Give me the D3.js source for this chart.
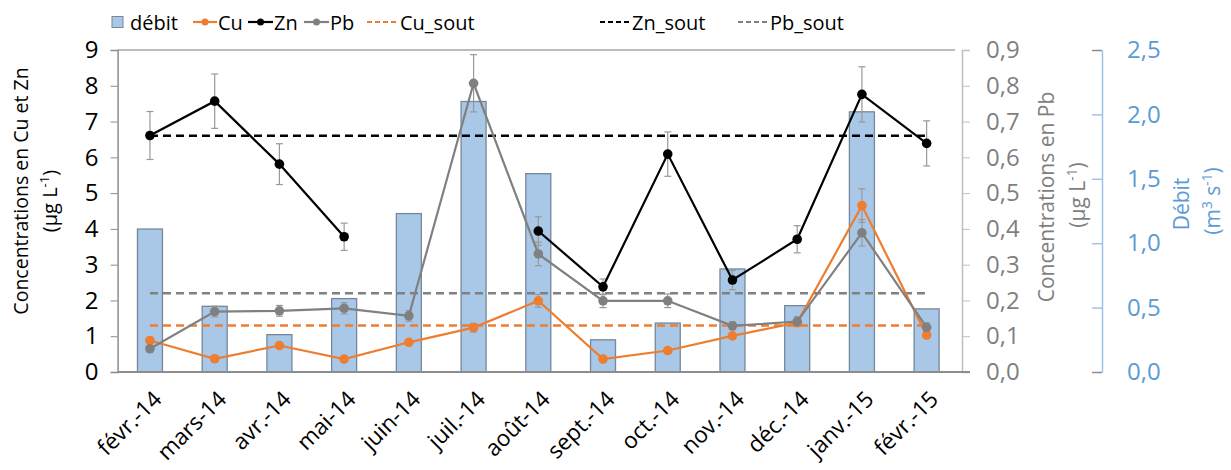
<!DOCTYPE html>
<html><head><meta charset="utf-8">
<script src="https://cdn.jsdelivr.net/npm/d3@7"></script>
<style>
html,body{margin:0;padding:0;background:#fff;}
svg{display:block;font-family:"Open Sans",sans-serif;}
</style></head>
<body>
<svg id="c" width="1231" height="470"></svg>
<script>
// ---- data ----
const months = ["févr.-14","mars-14","avr.-14","mai-14","juin-14","juil.-14","août-14","sept.-14","oct.-14","nov.-14","déc.-14","janv.-15","févr.-15"];
const debit = [1.11,0.51,0.29,0.57,1.23,2.10,1.54,0.25,0.38,0.80,0.515,2.02,0.49];
const cu    = [0.88,0.37,0.74,0.36,0.83,1.24,1.99,0.36,0.60,1.01,1.38,4.65,1.03];
const cuErr = [0.05,0.05,0.05,0.05,0.05,0.12,0.18,0.05,0.05,0.05,0.05,0.47,0.05];
const zn    = [6.61,7.57,5.81,3.78,null,null,3.94,2.38,6.09,2.57,3.71,7.76,6.39];
const znErr = [0.67,0.76,0.57,0.38,null,null,0.40,0.22,0.62,0.27,0.38,0.77,0.63];
const pb    = [0.065,0.169,0.171,0.178,0.157,0.807,0.330,0.199,0.199,0.129,0.141,0.389,0.125];
const pbErr = [0.005,0.015,0.015,0.016,0.015,0.080,0.033,0.019,0.019,0.011,0.014,0.037,0.012];
const cuSout = 1.3, znSout = 6.6, pbSout = 0.22;
const leftTicks = [0,1,2,3,4,5,6,7,8,9];
const pbTicks = [0,0.1,0.2,0.3,0.4,0.5,0.6,0.7,0.8,0.9];
const debitTicks = [0,0.5,1.0,1.5,2.0,2.5];

// ---- layout ----
const svg = d3.select("#c");
const L = 117.6, R = 959, T = 50, B = 372;
const x = d3.scalePoint().domain(months).range([L, R]).padding(0.5);
const yL = d3.scaleLinear().domain([0,9]).range([B,T]);
const yPb = d3.scaleLinear().domain([0,0.9]).range([B,T]);
const yQ = d3.scaleLinear().domain([0,2.5]).range([B,T]);
const fmt1 = d => d.toFixed(1).replace(".", ",");
const C_CU = "#ED7D31", C_ZN = "#000000", C_PB = "#808080", C_BLUE = "#5B9BD5";

// frame top line
svg.append("line").attr("x1",L).attr("x2",955).attr("y1",T).attr("y2",T)
  .attr("stroke","#a6a6a6").attr("stroke-width",1.5);

// bars
const bw = 25;
svg.append("g").selectAll("rect").data(months).join("rect")
  .attr("x", d => x(d) - bw/2)
  .attr("y", (d,i) => yQ(debit[i]))
  .attr("width", bw)
  .attr("height", (d,i) => yQ(0) - yQ(debit[i]))
  .attr("fill", "#A9C8E8")
  .attr("stroke", "#76879a")
  .attr("stroke-width", 1.3);

// left axis
const gL = svg.append("g").attr("transform",`translate(${L},0)`)
  .call(d3.axisLeft(yL).tickValues(leftTicks).tickSize(7).tickPadding(12).tickFormat(d3.format("d")));
gL.select(".domain").attr("stroke","#8c8c8c").attr("stroke-width",1.5);
gL.selectAll(".tick line").attr("stroke","#8c8c8c");
gL.selectAll("text").attr("font-size",24).attr("fill","#000").attr("font-family","Open Sans");

// Pb axis
const gP = svg.append("g").attr("transform",`translate(962,0)`)
  .call(d3.axisRight(yPb).tickValues(pbTicks).tickSize(8).tickPadding(16).tickFormat(fmt1));
gP.select(".domain").attr("stroke","#bfbfbf").attr("stroke-width",1.5);
gP.selectAll(".tick line").attr("stroke","#bfbfbf");
gP.selectAll("text").attr("font-size",24).attr("fill","#7f7f7f").attr("font-family","Open Sans");

// Debit axis
const gQ = svg.append("g").attr("transform",`translate(1102,0)`)
  .call(d3.axisRight(yQ).tickValues(debitTicks).tickSizeInner(-10).tickSizeOuter(0).tickPadding(25).tickFormat(fmt1));
gQ.select(".domain").attr("stroke","#9DC3E6").attr("stroke-width",1.5);
gQ.selectAll(".tick line").attr("stroke",(d)=> (d===0||d===2.5) ? "#8c8c8c" : "#9DC3E6").attr("stroke-width",1.5);
gQ.selectAll("text").attr("font-size",24).attr("fill",C_BLUE).attr("font-family","Open Sans");

// bottom axis
const gX = svg.append("g").attr("transform",`translate(0,${B})`)
  .call(d3.axisBottom(x).tickSize(0).tickPadding(0));
gX.select(".domain").attr("d",`M${L},0H970`).attr("stroke","#8c8c8c").attr("stroke-width",2);
gX.selectAll(".tick text")
  .attr("font-size",22.5).attr("fill","#000").attr("font-family","Open Sans")
  .attr("text-anchor","end")
  .attr("transform","translate(7,23) rotate(-45)")
  .attr("dy","0.35em").attr("y",0).attr("x",0);

// threshold lines
const x0 = x(months[0]), x1 = x(months[months.length-1]);
function dashLine(yv, col){
  svg.append("line").attr("x1",x0).attr("x2",x1).attr("y1",yv).attr("y2",yv)
    .attr("stroke",col).attr("stroke-width",2.5).attr("stroke-dasharray","8,5");
}
dashLine(yPb(pbSout), C_PB);
dashLine(yL(cuSout), C_CU);
dashLine(yL(znSout), C_ZN);

// error bars
function errBars(vals, errs, yS){
  const g = svg.append("g").attr("stroke","#999").attr("stroke-width",1.2);
  months.forEach((m,i)=>{
    if (vals[i]==null || errs[i]==null) return;
    const cx = x(m), y1 = yS(vals[i]+errs[i]), y2 = yS(vals[i]-errs[i]);
    g.append("line").attr("x1",cx).attr("x2",cx).attr("y1",y1).attr("y2",y2);
    g.append("line").attr("x1",cx-3.5).attr("x2",cx+3.5).attr("y1",y1).attr("y2",y1);
    g.append("line").attr("x1",cx-3.5).attr("x2",cx+3.5).attr("y1",y2).attr("y2",y2);
  });
}
errBars(cu, cuErr, yL);
errBars(zn, znErr, yL);
errBars(pb, pbErr, yPb);

// series lines
function series(vals, yS, col){
  const line = d3.line().defined(d => d.v != null).x(d => x(d.m)).y(d => yS(d.v));
  const data = months.map((m,i)=>({m, v: vals[i]}));
  svg.append("path").datum(data).attr("d",line).attr("fill","none")
    .attr("stroke",col).attr("stroke-width",2.2);
  svg.append("g").selectAll("circle").data(data.filter(d=>d.v!=null)).join("circle")
    .attr("cx",d=>x(d.m)).attr("cy",d=>yS(d.v)).attr("r",4.8).attr("fill",col);
}
series(cu, yL, C_CU);
series(zn, yL, C_ZN);
series(pb, yPb, C_PB);

// axis titles
function vTitle(cx, cy, col, fs, parts){
  const t = svg.append("text").attr("transform",`translate(${cx},${cy}) rotate(-90)`)
    .attr("text-anchor","middle").attr("dominant-baseline","central")
    .attr("font-size",fs).attr("fill",col);
  parts.forEach(p=>{
    const ts = t.append("tspan").text(p.t);
    if (p.sup) ts.attr("font-size",fs*0.65).attr("baseline-shift","40%");
  });
}
vTitle(20, 191, "#000", 19.5, [{t:"Concentrations en Cu et Zn"}]);
vTitle(49, 201, "#000", 20, [{t:"(µg L"},{t:"-1",sup:true},{t:")"}]);
vTitle(1046, 197, "#7f7f7f", 21, [{t:"Concentrations en Pb"}]);
vTitle(1077, 195, "#7f7f7f", 21, [{t:"(µg L"},{t:"-1",sup:true},{t:")"}]);
vTitle(1181, 204, C_BLUE, 21, [{t:"Débit"}]);
vTitle(1212, 201, C_BLUE, 21, [{t:"(m"},{t:"3",sup:true},{t:" s"},{t:"-1",sup:true},{t:")"}]);

// legend
const lg = svg.append("g").attr("font-size",20).attr("fill","#000");
const ly = 22;
lg.append("rect").attr("x",112).attr("y",ly-5.5).attr("width",11).attr("height",11)
  .attr("fill","#A9C8E8").attr("stroke","#76879a");
lg.append("text").attr("x",130).attr("y",ly).attr("dominant-baseline","central").text("débit");
const legItems = [
  {name:"Cu", col:C_CU, x1:193, x2:217, tx:218, dash:false},
  {name:"Zn", col:C_ZN, x1:248, x2:273, tx:274, dash:false},
  {name:"Pb", col:C_PB, x1:304, x2:329, tx:330, dash:false},
  {name:"Cu_sout", col:C_CU, x1:367, x2:398, tx:400, dash:true},
  {name:"Zn_sout", col:C_ZN, x1:600, x2:631, tx:632, dash:true},
  {name:"Pb_sout", col:C_PB, x1:738, x2:768, tx:770, dash:true}
];
legItems.forEach(it=>{
  lg.append("line").attr("x1",it.x1).attr("x2",it.x2).attr("y1",ly).attr("y2",ly)
    .attr("stroke",it.col).attr("stroke-width",2.2).attr("stroke-dasharray",it.dash?"5,3":null);
  if(!it.dash) lg.append("circle").attr("cx",(it.x1+it.x2)/2).attr("cy",ly).attr("r",3.5).attr("fill",it.col);
  lg.append("text").attr("x",it.tx).attr("y",ly).attr("dominant-baseline","central").text(it.name);
});
</script>
</body></html>
